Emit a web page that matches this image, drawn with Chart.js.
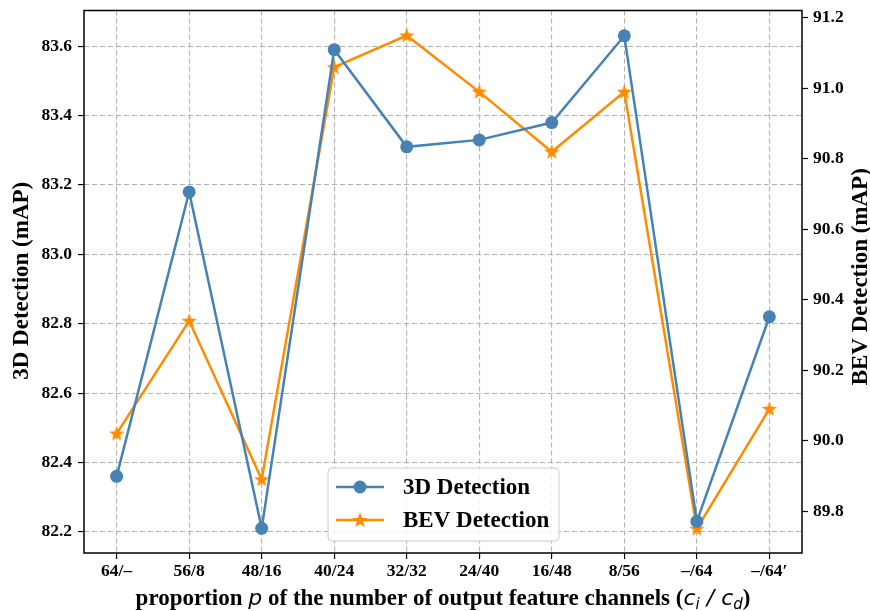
<!DOCTYPE html>
<html>
<head>
<meta charset="utf-8">
<script src="https://cdn.jsdelivr.net/npm/chart.js@4.4.1/dist/chart.umd.min.js"></script>
<style>
  html, body { margin: 0; padding: 0; background: #fff; }
  #wrap { width: 870px; height: 611px; position: relative; }
</style>
</head>
<body>
<div id="wrap"><canvas id="chart" width="870" height="611"></canvas></div>
<script>
// 数据
const xLabels = ['64/\u2013', '56/8', '48/16', '40/24', '32/32', '24/40', '16/48', '8/56', '\u2013/64', '\u2013/64\u2032'];
const det3d = [82.36, 83.18, 82.21, 83.59, 83.31, 83.33, 83.38, 83.63, 82.23, 82.82];
const detBev = [90.02, 90.34, 89.89, 91.06, 91.15, 90.99, 90.82, 90.99, 89.75, 90.09];
const leftTicks = [82.2, 82.4, 82.6, 82.8, 83.0, 83.2, 83.4, 83.6];
const rightTicks = [89.8, 90.0, 90.2, 90.4, 90.6, 90.8, 91.0, 91.2];

const BLUE = '#4682b4';
const ORANGE = '#ff8c00';
const SERIF = '"Liberation Serif", "Times New Roman", serif';
const SANS = '"DejaVu Sans", sans-serif';

// 五角星标记
function makeStar(r, color) {
    const size = Math.ceil(r * 2 + 2);
    const c = document.createElement('canvas');
    c.width = size;
    c.height = size;
    const g = c.getContext('2d');
    const cx = size / 2, cy = size / 2 + 0.5, ri = r * 0.42;
    g.beginPath();
    for (let i = 0; i < 10; i++) {
        const rr = i % 2 === 0 ? r : ri;
        const a = -Math.PI / 2 + i * Math.PI / 5;
        const px = cx + rr * Math.cos(a), py = cy + rr * Math.sin(a);
        if (i === 0) g.moveTo(px, py); else g.lineTo(px, py);
    }
    g.closePath();
    g.fillStyle = color;
    g.fill();
    return c;
}
const starImg = makeStar(8, ORANGE);

// 画框、图例、轴标题
const decor = {
    id: 'decor',
    afterDraw(chart) {
        const { ctx, chartArea: a } = chart;
        ctx.save();
        ctx.strokeStyle = '#000';
        ctx.lineWidth = 1.5;
        ctx.strokeRect(a.left, a.top, a.right - a.left, a.bottom - a.top);

        // legend (lower center)
        const bw = 231, bh = 73;
        const bx = (a.left + a.right) / 2 - bw / 2 + 0.5;
        const by = a.bottom - 12 - bh;
        ctx.beginPath();
        ctx.roundRect(bx, by, bw, bh, 4);
        ctx.fillStyle = 'rgba(255,255,255,0.85)';
        ctx.fill();
        ctx.strokeStyle = '#cccccc';
        ctx.lineWidth = 1;
        ctx.stroke();
        const items = [
            { text: '3D Detection', color: BLUE, star: false },
            { text: 'BEV Detection', color: ORANGE, star: true },
        ];
        items.forEach((it, i) => {
            const y = by + 19 + i * 33;
            ctx.strokeStyle = it.color;
            ctx.lineWidth = 2.5;
            ctx.beginPath();
            ctx.moveTo(bx + 8, y);
            ctx.lineTo(bx + 56, y);
            ctx.stroke();
            if (it.star) {
                ctx.drawImage(starImg, bx + 32 - starImg.width / 2, y - starImg.height / 2);
            } else {
                ctx.fillStyle = it.color;
                ctx.beginPath();
                ctx.arc(bx + 32, y, 6.5, 0, Math.PI * 2);
                ctx.fill();
            }
            ctx.fillStyle = '#000';
            ctx.font = 'bold 23px ' + SERIF;
            ctx.textAlign = 'left';
            ctx.textBaseline = 'middle';
            ctx.fillText(it.text, bx + 75, y + 1);
        });

        // y titles
        const midY = (a.top + a.bottom) / 2;
        ctx.fillStyle = '#000';
        ctx.font = 'bold 23px ' + SERIF;
        ctx.textAlign = 'center';
        ctx.textBaseline = 'middle';
        ctx.save();
        ctx.translate(22, midY - 1);
        ctx.rotate(-Math.PI / 2);
        ctx.fillText('3D Detection (mAP)', 0, 0);
        ctx.restore();
        ctx.save();
        ctx.translate(861, midY - 5);
        ctx.rotate(-Math.PI / 2);
        ctx.fillText('BEV Detection (mAP)', 0, 0);
        ctx.restore();

        // x title with italic math parts
        const bold = 'bold 23px ' + SERIF;
        const ital = 'oblique 22px ' + SANS;
        const sub = 'oblique 15px ' + SANS;
        const parts = [
            { t: 'proportion ', f: bold, dy: 0 },
            { t: 'p', f: ital, dy: 0 },
            { t: ' of the number of output feature channels (', f: bold, dy: 0 },
            { t: 'c', f: ital, dy: 0 },
            { t: 'i', f: sub, dy: 4 },
            { t: ' / ', f: ital, dy: 0 },
            { t: 'c', f: ital, dy: 0 },
            { t: 'd', f: sub, dy: 4 },
            { t: ')', f: bold, dy: 0 },
        ];
        let total = 0;
        parts.forEach(p => { ctx.font = p.f; p.w = ctx.measureText(p.t).width; total += p.w; });
        let x = (a.left + a.right) / 2 - total / 2;
        const baseY = 605;
        ctx.textAlign = 'left';
        ctx.textBaseline = 'alphabetic';
        parts.forEach(p => {
            ctx.font = p.f;
            ctx.fillText(p.t, x, baseY + p.dy);
            x += p.w;
        });
        ctx.restore();
    },
};

const tickFont = { family: SERIF, size: 17.5, weight: 'bold' };
const gridDash = { display: false, dash: [5, 3] };
const noPadV = s => { s.paddingTop = 0; s.paddingBottom = 0; };

new Chart(document.getElementById('chart').getContext('2d'), {
    type: 'line',
    data: {
        datasets: [
            {
                label: '3D Detection',
                data: det3d.map((v, i) => ({ x: i, y: v })),
                yAxisID: 'y',
                borderColor: BLUE,
                backgroundColor: BLUE,
                borderWidth: 2.5,
                pointRadius: 6.5,
                pointHoverRadius: 6.5,
                pointBorderWidth: 0,
                tension: 0,
            },
            {
                label: 'BEV Detection',
                data: detBev.map((v, i) => ({ x: i, y: v })),
                yAxisID: 'y1',
                borderColor: ORANGE,
                backgroundColor: ORANGE,
                borderWidth: 2.5,
                pointStyle: starImg,
                pointRadius: 8,
                tension: 0,
            },
        ],
    },
    options: {
        responsive: false,
        animation: false,
        layout: { padding: { top: 10, left: 0, right: 0, bottom: 0 } },
        plugins: {
            legend: { display: false },
            tooltip: { enabled: false },
        },
        scales: {
            x: {
                type: 'linear',
                position: 'bottom',
                min: -0.45,
                max: 9.45,
                afterBuildTicks: s => { s.ticks = xLabels.map((_, i) => ({ value: i })); },
                afterFit: s => { s.height = 58; s.paddingLeft = 0; s.paddingRight = 0; },
                ticks: {
                    callback: v => xLabels[v],
                    font: tickFont,
                    color: '#000',
                    padding: 2,
                    maxRotation: 0,
                    autoSkip: false,
                },
                grid: { color: '#b0b0b0', lineWidth: 1.1, tickColor: '#000', tickLength: 6, tickWidth: 1.2, tickBorderDash: [] },
                border: gridDash,
            },
            y: {
                position: 'left',
                min: 82.139,
                max: 83.703,
                afterBuildTicks: s => { s.ticks = leftTicks.map(v => ({ value: v })); },
                afterFit: s => { s.width = 84; noPadV(s); },
                ticks: { callback: v => v.toFixed(1), font: tickFont, color: '#000', padding: 6 },
                grid: { color: '#b0b0b0', lineWidth: 1.1, tickColor: '#000', tickLength: 6, tickWidth: 1.2, tickBorderDash: [] },
                border: gridDash,
            },
            y1: {
                position: 'right',
                min: 89.681,
                max: 91.221,
                afterBuildTicks: s => { s.ticks = rightTicks.map(v => ({ value: v })); },
                afterFit: s => { s.width = 68; noPadV(s); },
                ticks: { callback: v => v.toFixed(1), font: tickFont, color: '#000', padding: 5 },
                grid: { drawOnChartArea: false, tickColor: '#000', tickLength: 6, tickWidth: 1.2, tickBorderDash: [] },
                border: { display: false },
            },
        },
    },
    plugins: [decor],
});
</script>
</body>
</html>
